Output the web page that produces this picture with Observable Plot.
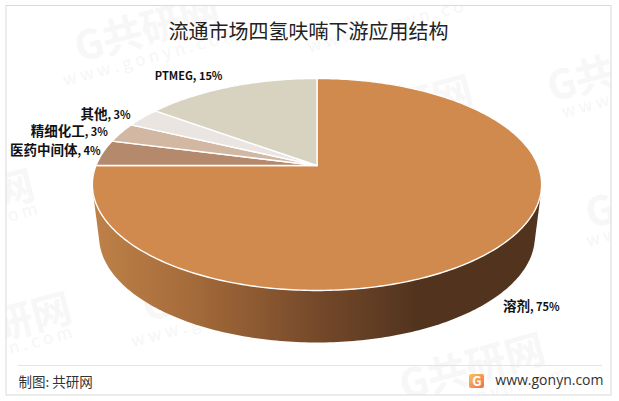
<!DOCTYPE html>
<html><head><meta charset="utf-8">
<script src="https://cdn.jsdelivr.net/npm/d3@7"></script>
<script src="https://cdn.jsdelivr.net/npm/@observablehq/plot@0.6"></script>
<style>html,body{margin:0;padding:0;background:#fff}svg{display:block}</style>
</head><body><div id="c"></div>
<script>
const titleText = "流通市场四氢呋喃下游应用结构";
const categories = ["溶剂", "医药中间体", "精细化工", "其他", "PTMEG"];
const shares = [75, 4, 3, 3, 15];
const sliceColors = ["#D08A4E", "#B58A6C", "#D2B8A2", "#EAE5E0", "#D7D3C0"];
const labelOffsets = [[7, 59], [-2, -1], [-13, 0], [-12, -2], [-8, -10]];
const sourceText = "制图: 共研网";
const siteText = "www.gonyn.com";
const watermarkGlyphs = [["G共研网",147,30],["G共",581,80],["网",14,190],["研网",32,318],["G共研网",215,290],["G共研网",472,368],["G",600,212],["G共研网",400,110]];
const watermarkLines = [["w w w . g o n y n . c o m",150,57],["w w w . g o n y n . c o",385,26],["w w w",585,106],["o m",22,212],["n . c o m",40,340],["w w w . g o n y n . c o m",218,318],["w w w . g o n y n . c o m",478,396],["w w",601,237]];

// pie projection
const cx = 316.5, cy = 165, B = 221, A = 102.6, k = 0.179, depth = 52, shrink = 0.97;
function rim(share) {
  const t = share / 100 * 2 * Math.PI, u = Math.sin(t), v = Math.cos(t), w = 1 + k * v;
  return {x: cx + B * u / w, y: cy - A * v / w};
}
function ring(share) {
  const p = rim(share);
  return {x: cx + (p.x - cx) * shrink, y: p.y + depth};
}
let acc = 0;
const slices = categories.map((name, i) => {
  const from = acc, to = acc + shares[i]; acc = to;
  const pts = [{x: cx, y: cy}];
  for (let s = from; s < to; s += 0.25) pts.push(rim(s));
  pts.push(rim(to));
  return {name, share: shares[i], mid: (from + to) / 2, pts, color: sliceColors[i], off: labelOffsets[i]};
});
const wallRaw = [];
for (let s = 0; s < 100; s += 0.25) { const a = rim(s), b = ring(s); wallRaw.push([a.x, a.y], [b.x, b.y]); }
const wallPts = d3.polygonHull(wallRaw).map(([x, y]) => ({x, y}));

const labels = slices.map(d => {
  const p = rim(d.mid);
  return {name: d.name, text: `${d.name}, ${d.share}%`, x: p.x + d.off[0], y: p.y + d.off[1]};
});

const defs = () => d3.create("svg:defs").html(`
<linearGradient id="wall" x1="0" x2="1" y1="0" y2="0">
<stop offset="0" stop-color="#BE8148"/><stop offset="0.22" stop-color="#A56B3A"/>
<stop offset="0.5" stop-color="#75492A"/><stop offset="0.72" stop-color="#52341E"/><stop offset="1" stop-color="#52341E"/>
</linearGradient>
<linearGradient id="logo" x1="0" x2="1" y1="0" y2="1">
<stop offset="0" stop-color="#F9C25C"/><stop offset="1" stop-color="#EF6F4A"/>
</linearGradient>`).node();

const font = "'Noto Sans CJK SC','Noto Sans',sans-serif";
const chart = Plot.plot({
  width: 619, height: 401, marginLeft: 6, marginRight: 8, marginTop: 5, marginBottom: 6,
  x: {domain: [6, 611], range: [6, 611], axis: null},
  y: {domain: [5, 395], range: [5, 395], axis: null},
  marks: [
    defs,
    Plot.text(watermarkGlyphs, {x: d => d[1], y: d => d[2], text: d => d[0], rotate: -15, fontSize: 40, fontWeight: 700, fill: "#F7F7F7", fontFamily: font, clip: "frame"}),
    Plot.text(watermarkLines, {x: d => d[1], y: d => d[2], text: d => d[0], rotate: -15, fontSize: 17, fill: "#F6F6F6", fontFamily: font, clip: "frame"}),
    Plot.rect([{}], {x1: () => 6, x2: () => 611, y1: () => 5.5, y2: () => 395, fill: "none", stroke: "#D9D9D9", strokeWidth: 1}),
    Plot.line(wallPts, {x: "x", y: "y", curve: "linear-closed", fill: "url(#wall)", stroke: "none"}),
    ...slices.map(d => Plot.line(d.pts, {x: "x", y: "y", curve: "linear-closed", fill: d.color, stroke: "#fff", strokeWidth: 1.4, strokeLinejoin: "round"})),
    Plot.text(labels.filter(d => d.name !== "溶剂"), {x: "x", y: "y", text: "text", textAnchor: "end", fontSize: 11, fontWeight: 700, fill: "#111", fontFamily: font, className: "lab"}),
    Plot.text(labels.filter(d => d.name === "溶剂"), {x: "x", y: "y", text: "text", textAnchor: "start", fontSize: 11, fontWeight: 700, fill: "#111", fontFamily: font, className: "lab"}),
    Plot.text([titleText], {x: () => 308, y: () => 32, text: d => d, fontSize: 20, fill: "#222", fontFamily: font, fontWeight: 400}),
    Plot.ruleY([365], {x1: 18, x2: 602, stroke: "#E4E4E4", strokeWidth: 1}),
    Plot.text([sourceText], {x: () => 18, y: () => 382, text: d => d, textAnchor: "start", fontSize: 13.5, fill: "#333", fontFamily: font}),
    Plot.rect([{}], {x1: () => 469, x2: () => 484, y1: () => 374, y2: () => 388, fill: "url(#logo)", rx: 2}),
    Plot.text(["G"], {x: () => 476.5, y: () => 381, text: d => d, fontSize: 13, fontWeight: 700, fill: "#fff", fontFamily: font}),
    Plot.text([siteText], {x: () => 603, y: () => 380, text: d => d, textAnchor: "end", fontSize: 14, fill: "#333", fontFamily: "'Open Sans',sans-serif"})
  ]
});
// CJK characters of the labels are set larger than the Latin ones, as in the reference
d3.select(chart).selectAll(".lab text").each(function () {
  const s = this.textContent, t = d3.select(this);
  const parts = s.match(/[\u4e00-\u9fff]+|[^\u4e00-\u9fff]+/g);
  t.text(null);
  for (const p of parts) t.append("tspan").attr("font-size", /[\u4e00-\u9fff]/.test(p) ? 13.5 : 11).text(p);
});
document.getElementById("c").append(chart);
</script></body></html>
